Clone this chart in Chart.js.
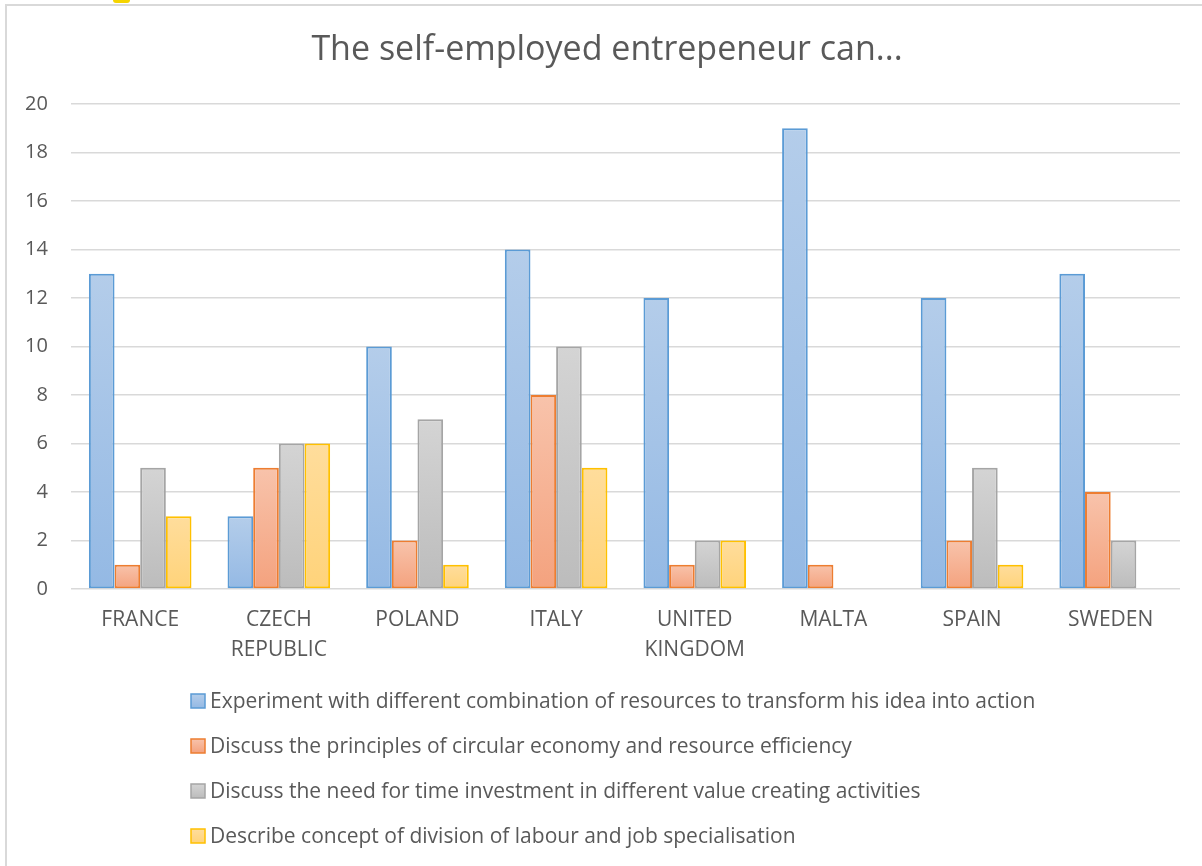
<!DOCTYPE html>
<html>
<head>
<meta charset="utf-8">
<script src="https://cdn.jsdelivr.net/npm/chart.js@4/dist/chart.umd.min.js"></script>
<style>
    body { margin: 0; background: #ffffff; }
    #frame {
        position: absolute; left: 5px; top: 4px; width: 1220px; height: 900px;
        border: 2px solid #d9d9d9; box-sizing: border-box;
    }
    #handle {
        position: absolute; left: 113px; top: -4px; width: 17px; height: 7px;
        background: #f5d400; border-radius: 3px;
    }
    #chart { position: absolute; left: 0; top: 0; }
</style>
</head>
<body>
<div id="frame"></div>
<div id="handle"></div>
<canvas id="chart" width="1202" height="866"></canvas>
<script>
// Chart data
const countries = ['FRANCE', ['CZECH', 'REPUBLIC'], 'POLAND', 'ITALY', ['UNITED', 'KINGDOM'], 'MALTA', 'SPAIN', 'SWEDEN'];
const experimentValues = [13, 3, 10, 14, 12, 19, 12, 13];
const circularValues = [1, 5, 2, 8, 1, 1, 2, 4];
const timeValues = [5, 6, 7, 10, 2, null, 5, 2];
const divisionValues = [3, 6, 1, 5, 2, null, 1, null];
const seriesNames = [
    'Experiment with different combination of resources to transform his idea into action',
    'Discuss the principles of circular economy and resource efficiency',
    'Discuss the need for time investment in different value creating activities',
    'Describe concept of division of labour and job specialisation'
];
const chartTitle = 'The self-employed entrepeneur can...';

const fontFamily = '"Open Sans", Lato, sans-serif';
const textColor = '#595959';

// top colour, bottom colour, border colour
const palette = [
    ['#b4cdea', '#94b9e4', '#5b9bd5'],
    ['#f8c3ab', '#f4a27e', '#ed7d31'],
    ['#d4d4d4', '#bcbcbc', '#a5a5a5'],
    ['#ffdd9c', '#ffd37a', '#ffc000']
];

// gradient from the bar's top down to the zero line
function barGradient(index) {
    return function(context) {
        const chart = context.chart;
        if (context.type !== 'data' || !chart.chartArea) return palette[index][1];
        const y = chart.scales.y;
        const top = y.getPixelForValue(context.raw || 0);
        const base = y.getPixelForValue(0);
        if (base - top < 1) return palette[index][1];
        const g = chart.ctx.createLinearGradient(0, top, 0, base);
        g.addColorStop(0, palette[index][0]);
        g.addColorStop(1, palette[index][1]);
        return g;
    };
}

function makeDataset(label, data, index) {
    return {
        label: label,
        data: data,
        backgroundColor: barGradient(index),
        borderColor: palette[index][2],
        borderWidth: 2,
        borderSkipped: false,
        categoryPercentage: 0.74,
        barPercentage: 1
    };
}

// Title sits a little right of the canvas centre, as in the original
const offsetTitle = {
    id: 'offsetTitle',
    afterDraw(chart) {
        const ctx = chart.ctx;
        ctx.save();
        ctx.font = '34px ' + fontFamily;
        ctx.fillStyle = textColor;
        ctx.textAlign = 'center';
        ctx.textBaseline = 'middle';
        ctx.fillText(chartTitle, 607, 50);
        ctx.restore();
    }
};

// Legend drawn one entry per row, left aligned like the original
const listLegend = {
    id: 'listLegend',
    afterDraw(chart) {
        const ctx = chart.ctx;
        const rows = [701, 746, 791, 836];
        const boxX = 191, box = 14;
        ctx.save();
        ctx.font = '21px ' + fontFamily;
        ctx.textBaseline = 'middle';
        chart.data.datasets.forEach((ds, i) => {
            const y = rows[i];
            const g = ctx.createLinearGradient(0, y - box / 2, 0, y + box / 2);
            g.addColorStop(0, palette[i][0]);
            g.addColorStop(1, palette[i][1]);
            ctx.fillStyle = g;
            ctx.fillRect(boxX, y - box / 2, box, box);
            ctx.strokeStyle = palette[i][2];
            ctx.lineWidth = 1.5;
            ctx.strokeRect(boxX, y - box / 2, box, box);
            ctx.fillStyle = textColor;
            ctx.fillText(ds.label, boxX + box + 5, y + 1);
        });
        ctx.restore();
    }
};

new Chart(document.getElementById('chart'), {
    type: 'bar',
    data: {
        labels: countries,
        datasets: [
            makeDataset(seriesNames[0], experimentValues, 0),
            makeDataset(seriesNames[1], circularValues, 1),
            makeDataset(seriesNames[2], timeValues, 2),
            makeDataset(seriesNames[3], divisionValues, 3)
        ]
    },
    options: {
        responsive: false,
        animation: false,
        layout: {
            padding: { left: 2, right: 22, top: 104, bottom: 193 }
        },
        plugins: {
            legend: { display: false },
            tooltip: { enabled: false },
            title: { display: false }
        },
        scales: {
            x: {
                grid: { display: false },
                border: { display: false },
                ticks: {
                    color: textColor,
                    padding: 8,
                    maxRotation: 0,
                    autoSkip: false,
                    font: { family: fontFamily, size: 21, lineHeight: '30px' }
                }
            },
            y: {
                min: 0,
                max: 20,
                grid: { color: '#d9d9d9', lineWidth: 1.5, drawTicks: false },
                border: { display: false },
                ticks: {
                    stepSize: 2,
                    color: textColor,
                    padding: 23,
                    font: { family: fontFamily, size: 20 }
                }
            }
        }
    },
    plugins: [offsetTitle, listLegend]
});
</script>
</body>
</html>
